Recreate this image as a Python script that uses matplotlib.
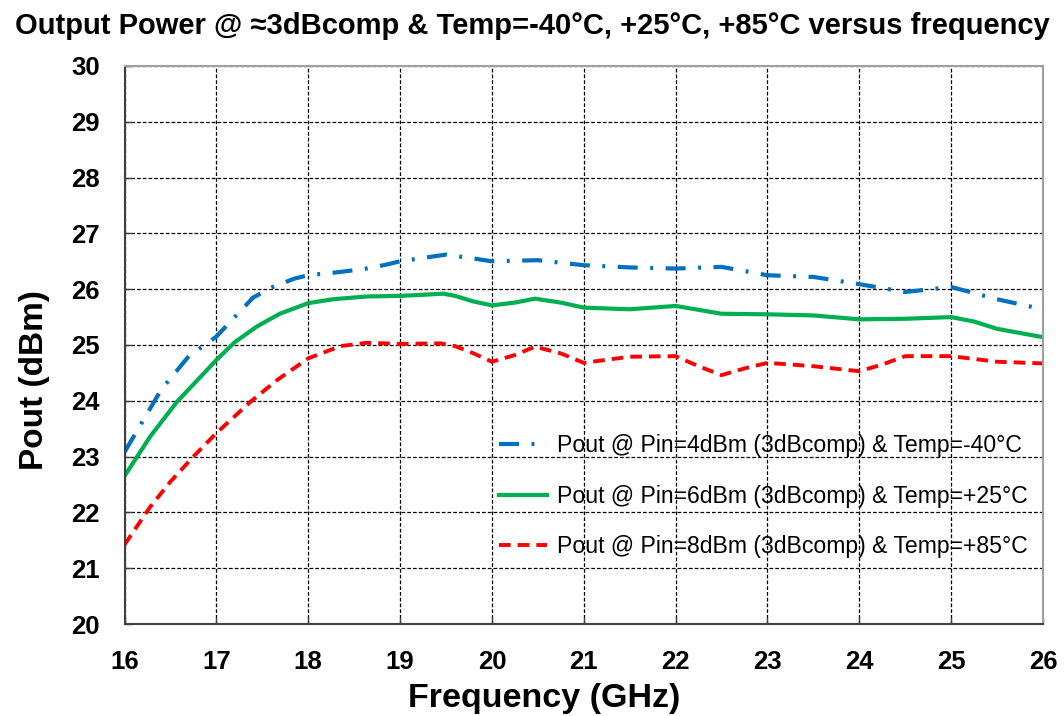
import matplotlib
matplotlib.use("Agg")
import matplotlib.pyplot as plt

# ---- data ----
freq_m40 = [16, 16.15, 16.4, 16.7, 17, 17.2, 17.4, 17.6, 17.85, 18, 18.3, 18.6, 18.85, 19, 19.25,
            19.5, 19.8, 20, 20.5, 21, 21.5, 22, 22.5, 23, 23.5, 24, 24.5, 25, 25.5, 26]
pout_m40 = [23.08, 23.5, 24.2, 24.8, 25.15, 25.5, 25.85, 26.03, 26.19, 26.25, 26.3, 26.36, 26.44, 26.5, 26.56,
            26.62, 26.55, 26.5, 26.52, 26.43, 26.39, 26.37, 26.4, 26.25, 26.22, 26.09, 25.95, 26.04, 25.82, 25.64]

freq_p25 = [16, 16.28, 16.57, 17, 17.2, 17.44, 17.69, 18, 18.27, 18.64, 19, 19.25, 19.47, 19.6, 19.8,
            20, 20.25, 20.47, 20.75, 21, 21.5, 22, 22.5, 23, 23.5, 24, 24.5, 25, 25.25, 25.5, 26]
pout_p25 = [22.65, 23.36, 23.98, 24.73, 25.05, 25.33, 25.56, 25.75, 25.82, 25.87, 25.88, 25.9, 25.92, 25.88, 25.78,
            25.71, 25.76, 25.83, 25.76, 25.67, 25.64, 25.70, 25.56, 25.55, 25.53, 25.46, 25.47, 25.50, 25.42, 25.29, 25.14]

freq_p85 = [16, 16.28, 16.5, 16.75, 17, 17.37, 17.66, 18, 18.35, 18.64, 19, 19.44, 19.6, 19.8, 20, 20.25,
            20.47, 20.75, 21, 21.5, 22, 22.25, 22.5, 22.75, 23, 23.5, 24, 24.25, 24.5, 25, 25.5, 26]
pout_p85 = [21.42, 22.1, 22.55, 23.0, 23.42, 23.98, 24.37, 24.76, 24.98, 25.04, 25.02, 25.03, 24.98, 24.85, 24.70, 24.82,
            24.97, 24.85, 24.68, 24.79, 24.80, 24.62, 24.46, 24.58, 24.68, 24.62, 24.53, 24.65, 24.80, 24.80, 24.70, 24.67]

labels = ["Pout @ Pin=4dBm (3dBcomp) & Temp=-40°C",
          "Pout @ Pin=6dBm (3dBcomp) & Temp=+25°C",
          "Pout @ Pin=8dBm (3dBcomp) & Temp=+85°C"]
x_ticks = list(range(16, 27))
y_ticks = list(range(20, 31))
title = "Output Power @ \u22483dBcomp & Temp=-40°C, +25°C, +85°C versus frequency"

plt.rcParams['font.family'] = ['Liberation Sans', 'DejaVu Sans']

fig = plt.figure(figsize=(10.64, 7.16), dpi=100)
ax = fig.add_axes([124.5/1064, 1-624/716, (1043-124.5)/1064, (624-66)/716])

ax.plot(freq_m40, pout_m40, color='#0070C0', lw=3, dashes=(4.8, 3.0, 0.7, 3.0), label=labels[0],
        solid_joinstyle='round', dash_joinstyle='round')
ax.plot(freq_p25, pout_p25, color='#00B050', lw=3, label=labels[1], solid_joinstyle='round')
ax.plot(freq_p85, pout_p85, color='#FF0000', lw=2.8, dashes=(3, 1.8), label=labels[2],
        dash_joinstyle='round')

ax.set_xlim(16, 26)
ax.set_ylim(20, 30)
ax.set_xticks(x_ticks)
ax.set_yticks(y_ticks)
ax.grid(True, color='black', lw=0.9, linestyle=(0, (3, 1.6)))
ax.tick_params(direction='in', length=5, width=1, color='#404040', labelsize=18.5)
ax.tick_params(axis='y', pad=18)
ax.tick_params(axis='x', pad=19)
for lab in ax.get_xticklabels() + ax.get_yticklabels():
    lab.set_fontweight('bold')
ax.spines['left'].set_color('#404040')
ax.spines['bottom'].set_color('#404040')
ax.spines['left'].set_linewidth(1.5)
ax.spines['bottom'].set_linewidth(1.5)
ax.spines['top'].set_color('#A0A0A0')
ax.spines['right'].set_color('#A0A0A0')
ax.spines['top'].set_linewidth(1.5)
ax.spines['right'].set_linewidth(1.5)

fig.text(544/1064, 1-698/716, "Frequency (GHz)", fontsize=24.5, fontweight='bold', ha='center', va='center')
fig.text(35/1064, 1-380/716, "Pout (dBm)", fontsize=24, fontweight='bold', ha='center', va='center',
         rotation=90)
fig.text(532/1064, 1-26/716, title, fontsize=21, fontweight='bold', ha='center', va='center')

leg = ax.legend(loc='upper left', bbox_to_anchor=((499-124.5)/918.5, (624-434)/558),
                frameon=False, fontsize=16.6, handlelength=2.1, handletextpad=0.4,
                labelspacing=1.2, borderpad=0, borderaxespad=0)

fig.savefig("out.png", dpi=100)
